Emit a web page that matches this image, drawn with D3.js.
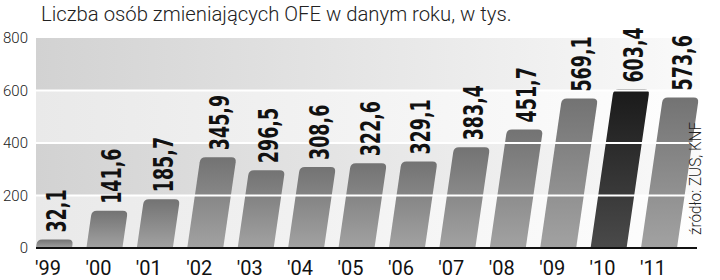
<!DOCTYPE html>
<html>
<head>
<meta charset="utf-8">
<script src="https://cdn.jsdelivr.net/npm/d3@7"></script>
<style>
  html, body { margin: 0; padding: 0; background: #fff; }
  svg { display: block; }
</style>
</head>
<body>
<div id="chart"></div>
<script>
// ---- data ----
const years = ["'99", "'00", "'01", "'02", "'03", "'04", "'05", "'06", "'07", "'08", "'09", "'10", "'11"];
const values = [32.1, 141.6, 185.7, 345.9, 296.5, 308.6, 322.6, 329.1, 383.4, 451.7, 569.1, 603.4, 573.6];
const highlightYear = "'10";
const yTicks = [0, 200, 400, 600, 800];
const titleText = "Liczba osób zmieniających OFE w danym roku, w tys.";
const sourceText = "źródło: ZUS, KNF";

const W = 720, H = 280;
const plotLeft = 36, plotRight = 700, plotTop = 38, plotBottom = 248;
const slant = 0.145;

const svg = d3.select("#chart").append("svg").attr("width", W).attr("height", H);
const defs = svg.append("defs");

const x = d3.scaleBand().domain(years).range([36, 677]).paddingInner(0.286).paddingOuter(0).align(0);
const y = d3.scaleLinear().domain([0, 800]).range([plotBottom, plotTop]);

// gradients
function hGrad(id, c0, c1) {
  const g = defs.append("linearGradient").attr("id", id).attr("x1", 0).attr("x2", 1).attr("y1", 0).attr("y2", 0);
  g.append("stop").attr("offset", "0%").attr("stop-color", c0);
  g.append("stop").attr("offset", "100%").attr("stop-color", c1);
}
hGrad("bandDark", "#d2d2d2", "#fafafa");
hGrad("bandLight", "#e9e9e9", "#fefefe");
function vGrad(id, c0, c1) {
  const g = defs.append("linearGradient").attr("id", id).attr("x1", 0).attr("x2", 0).attr("y1", 0).attr("y2", 1);
  g.append("stop").attr("offset", "0%").attr("stop-color", c0);
  g.append("stop").attr("offset", "100%").attr("stop-color", c1);
}
vGrad("barGrey", "#737373", "#a2a2a2");
vGrad("barDark", "#1a1a1a", "#4a4a4a");

// background bands
const bands = d3.pairs(yTicks).map(([a, b], i) => ({a, b, i}));
svg.append("g").selectAll("rect").data(bands).join("rect")
  .attr("x", plotLeft).attr("width", plotRight - plotLeft)
  .attr("y", d => y(d.b)).attr("height", d => y(d.a) - y(d.b))
  .attr("fill", d => d.i % 2 === 0 ? "url(#bandLight)" : "url(#bandDark)");

// bars (skewed, rounded top)
const r = 5;
function barPath(v) {
  const h = y(0) - y(v);
  const w = x.bandwidth();
  const rr = Math.min(r, h);
  return `M0,0 L0,${-h + rr} Q0,${-h} ${rr},${-h} L${w - rr},${-h} Q${w},${-h} ${w},${-h + rr} L${w},0 Z`;
}
const angle = Math.atan(slant) * 180 / Math.PI;
svg.append("g").selectAll("path").data(years).join("path")
  .attr("transform", d => `translate(${x(d)},${y(0)}) skewX(${-angle})`)
  .attr("d", (d, i) => barPath(values[i]))
  .attr("fill", d => d === highlightYear ? "url(#barDark)" : "url(#barGrey)");

// gridlines on top
svg.append("g").selectAll("line").data(yTicks.filter(t => t > 0 && t < 800)).join("line")
  .attr("x1", plotLeft).attr("x2", plotRight)
  .attr("y1", d => y(d)).attr("y2", d => y(d))
  .attr("stroke", "#fff").attr("stroke-width", 2);

// axis line
svg.append("line").attr("x1", plotLeft).attr("x2", 697).attr("y1", y(0)).attr("y2", y(0))
  .attr("stroke", "#111").attr("stroke-width", 2);

// value labels (condensed bold)
const fmt = v => d3.format(".1f")(v).replace(".", ",");
svg.append("g").selectAll("text").data(years).join("text")
  .attr("transform", (d, i) => {
    const v = values[i];
    const h = y(0) - y(v);
    const cx = x(d) + x.bandwidth() / 2 + h * slant + 11;
    return `translate(${cx},${y(v) - 7}) rotate(-90) scale(0.72,1)`;
  })
  .attr("font-family", "'DejaVu Sans Condensed', 'DejaVu Sans', sans-serif")
  .attr("font-weight", "bold").attr("font-size", 27).attr("fill", "#111")
  .text((d, i) => fmt(values[i]));

// y tick labels
svg.append("g").selectAll("text").data(yTicks).join("text")
  .attr("x", 28).attr("y", d => y(d)).attr("dy", "0.36em").attr("text-anchor", "end")
  .attr("font-family", "Roboto, sans-serif").attr("font-weight", 300).attr("font-size", 15).attr("fill", "#222")
  .text(d => d);

// x labels
svg.append("g").selectAll("text").data(years).join("text")
  .attr("x", d => x(d) - 1).attr("y", 275)
  .attr("font-family", "Roboto, sans-serif").attr("font-weight", 400).attr("font-size", 20).attr("fill", "#111")
  .text(d => d);

// title
svg.append("text").attr("x", 41).attr("y", 21)
  .attr("font-family", "Roboto, sans-serif").attr("font-weight", 300).attr("font-size", 20.3).attr("fill", "#222")
  .text(titleText);

// source
svg.append("text").attr("transform", `translate(701,235) rotate(-90)`)
  .attr("font-family", "Roboto, sans-serif").attr("font-weight", 300).attr("font-size", 17).attr("fill", "#222")
  .attr("textLength", 113).attr("lengthAdjust", "spacingAndGlyphs")
  .text(sourceText);
</script>
</body>
</html>
